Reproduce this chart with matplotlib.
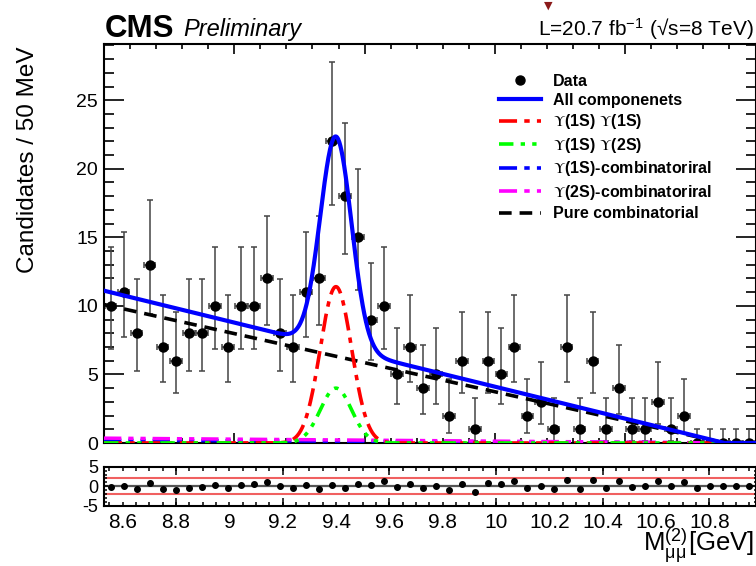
import numpy as np
import matplotlib
matplotlib.use("Agg")
import matplotlib.pyplot as plt
from matplotlib.lines import Line2D
from matplotlib.ticker import MultipleLocator, FixedLocator

plt.rcParams['font.family'] = ['Liberation Sans', 'DejaVu Sans']
plt.rcParams['mathtext.fontset'] = 'stix'

# ---------------- data ----------------
mass_range = (8.5, 11.0)          # main frame range (GeV), 50 bins of 50 MeV
n_bins = 50
counts = [10, 11, 8, 13, 7, 6, 8, 8, 10, 7,
          10, 10, 12, 8, 7, 11, 12, 22, 18, 15,
          9, 10, 5, 7, 4, 5, 2, 6, 1, 6,
          5, 7, 2, 3, 1, 7, 1, 6, 1, 4,
          1, 1, 3, 1, 2, 0, 0, 0, 0, 0]
# asymmetric (Poisson) error bars: count -> (down, up)
poisson_err = {0: (0.0, 1.0), 1: (0.83, 2.30), 2: (1.29, 2.64), 3: (1.63, 2.92),
               4: (1.91, 3.16), 5: (2.16, 3.38), 6: (2.38, 3.58), 7: (2.58, 3.77),
               8: (2.77, 3.95), 9: (2.94, 4.11), 10: (3.11, 4.27), 11: (3.27, 4.42),
               12: (3.41, 4.56), 13: (3.56, 4.70), 15: (3.83, 4.96), 18: (4.20, 5.32),
               22: (4.65, 5.76)}
pulls = [-0.17, 0.1, -0.6, 0.94, -0.77, -1.1, -0.34, -0.26, 0.34, -0.5,
         0.43, 0.5, 1.2, 0.0, -0.34, 0.43, -0.6, 0.26, -0.34, 0.6,
         0.43, 1.37, -0.26, 0.5, -0.34, 0.1, -0.94, 0.68, -1.45, 0.94,
         0.6, 1.37, -0.5, 0.0, -0.77, 1.7, -0.68, 1.7, -0.34, 1.28,
         -0.17, 0.0, 1.28, 0.17, 1.1, -0.43, 0.0, 0.1, 0.1, 0.1]

# fit model parameters
peak_mean, peak_sigma = 9.39, 0.06
amp_1s1s, amp_1s2s = 11.4, 4.0
bg_at_start, bg_end = 10.1, 10.88
total_bg_factor = 1.1
comb1_frac, comb2_frac = 0.02, 0.035

# pull-panel axis (labelled) range and ticks
pull_xlim = (8.530, 10.973)
pull_ticks = [8.6, 8.8, 9.0, 9.2, 9.4, 9.6, 9.8, 10.0, 10.2, 10.4, 10.6, 10.8]
pull_ticklabels = ['8.6', '8.8', '9', '9.2', '9.4', '9.6', '9.8', '10', '10.2', '10.4', '10.6', '10.8']
pull_long_ticks = [8.8, 9.2, 9.6, 10.0, 10.4, 10.8]

legend_labels = ['Data', 'All componenets',
                 r'$\Upsilon$(1S) $\Upsilon$(1S)', r'$\Upsilon$(1S) $\Upsilon$(2S)',
                 r'$\Upsilon$(1S)-combinatoriral', r'$\Upsilon$(2S)-combinatoriral',
                 'Pure combinatorial']

# ---------------- derived ----------------
edges = np.linspace(mass_range[0], mass_range[1], n_bins + 1)
centers = 0.5 * (edges[1:] + edges[:-1])
half = 0.5 * (edges[1] - edges[0])
counts = np.array(counts, float)
err_lo = np.array([poisson_err[int(c)][0] for c in counts])
err_hi = np.array([poisson_err[int(c)][1] for c in counts])

x = np.linspace(mass_range[0], mass_range[1], 1200)
def gauss(x, a, m, s):
    return a * np.exp(-0.5 * ((x - m) / s) ** 2)
bg = np.clip(bg_at_start * (bg_end - x) / (bg_end - mass_range[0]), 0, None)
s11 = gauss(x, amp_1s1s, peak_mean, peak_sigma)
s12 = gauss(x, amp_1s2s, peak_mean, peak_sigma)
comb1 = comb1_frac * bg
comb2 = comb2_frac * bg
total = total_bg_factor * bg + s11 + s12

# ---------------- figure ----------------
W, H = 756, 566
fig = plt.figure(figsize=(W / 100, H / 100), dpi=100)
ax = fig.add_axes([104 / W, 1 - 443 / H, (755.5 - 104) / W, (443 - 44) / H])
ax2 = fig.add_axes([104 / W, 1 - 505.7 / H, (755.5 - 104) / W, 39 / H])

ax.errorbar(centers, counts, yerr=[err_lo, err_hi], xerr=half * 0.9, fmt='o',
            color='black', ecolor='#444444', elinewidth=1.1, capsize=2.0,
            capthick=1.1, ms=6.5, zorder=2)

ax.plot(x, comb1, color='#0000ff', lw=2.5, ls=(0, (5, 2, 1.5, 2, 1.5, 2)), zorder=3)
ax.plot(x, comb2, color='#ff00ff', lw=2.5, ls=(0, (5, 2, 1.5, 2, 1.5, 2)), zorder=3)
ax.plot(x, bg, color='black', lw=2.6, ls=(0, (3.5, 2.2)), zorder=4)
ax.plot(x, s11, color='#ff0000', lw=2.6, ls=(0, (5, 2, 1.5, 2)), zorder=4)
ax.plot(x, s12, color='#00ff00', lw=2.6, ls=(0, (4, 2, 1.2, 2, 1.2, 2, 1.2, 2)), zorder=4)
ax.plot(x, total, color='#0000ff', lw=3.0, zorder=5)

ax.set_xlim(*mass_range)
ax.set_ylim(0, 29.1)
ax.xaxis.set_major_locator(MultipleLocator(0.5))
ax.xaxis.set_minor_locator(MultipleLocator(0.1))
ax.yaxis.set_major_locator(MultipleLocator(5))
ax.yaxis.set_minor_locator(MultipleLocator(1))
ax.tick_params(axis='both', which='both', direction='in', top=True, right=True,
               width=1.2, labelsize=14)
ax.tick_params(axis='x', which='major', length=7.5, labelbottom=False)
ax.tick_params(axis='x', which='minor', length=3.6)
ax.tick_params(axis='y', which='major', length=14.5, pad=4.5)
ax.tick_params(axis='y', which='minor', length=7.2)
for sp in ax.spines.values():
    sp.set_linewidth(1.5)

handles = [Line2D([], [], marker='o', color='black', ls='none', ms=6.5),
           Line2D([], [], color='#0000ff', lw=3.0),
           Line2D([], [], color='#ff0000', lw=2.6, ls=(0, (5, 2, 1.5, 2))),
           Line2D([], [], color='#00ff00', lw=2.6, ls=(0, (4, 2, 1.2, 2, 1.2, 2, 1.2, 2))),
           Line2D([], [], color='#0000ff', lw=2.6, ls=(0, (5, 2, 1.5, 2, 1.5, 2))),
           Line2D([], [], color='#ff00ff', lw=2.6, ls=(0, (5, 2, 1.5, 2, 1.5, 2))),
           Line2D([], [], color='black', lw=2.6, ls=(0, (3.5, 2.2)))]
leg = fig.legend(handles, legend_labels, loc='upper left',
                 bbox_to_anchor=(499 / W, 1 - 73.5 / H), frameon=False,
                 prop={'weight': 'bold', 'size': 11.5}, handlelength=2.6,
                 handletextpad=0.75, labelspacing=0.28, borderpad=0, borderaxespad=0)

# ---- pull panel ----
pull_x = np.interp(centers, mass_range, pull_xlim)
ax2.axhline(0, color='#555555', lw=1.6, zorder=1)
ax2.axhline(2, color='#ee4444', lw=1.5, alpha=0.85, zorder=1)
ax2.axhline(-2, color='#ee4444', lw=1.5, alpha=0.85, zorder=1)
ax2.errorbar(pull_x, pulls, yerr=0.6, fmt='o', color='black', ms=4, elinewidth=1.0,
             capsize=0, zorder=3)
ax2.set_xlim(*pull_xlim)
ax2.set_ylim(-5, 5)
ax2.xaxis.set_major_locator(FixedLocator(pull_ticks))
ax2.set_xticklabels(pull_ticklabels)
ax2.xaxis.set_minor_locator(MultipleLocator(0.05))
ax2.set_yticks([-5, 0, 5])
ax2.set_yticklabels(['-5', '0', '5'])
ax2.yaxis.set_minor_locator(MultipleLocator(1))
ax2.tick_params(axis='both', which='both', direction='in', top=True, right=True, width=1.1)
ax2.tick_params(axis='x', which='both', length=3.0, labelsize=15, pad=5.5)
ax2.tick_params(axis='y', which='major', length=3, labelsize=13, pad=4)
ax2.tick_params(axis='y', which='minor', length=1.8)
for sp in ax2.spines.values():
    sp.set_linewidth(1.5)
for loc in ('bottom', 'top'):
    sec = ax2.secondary_xaxis(loc, functions=(lambda v: v, lambda v: v))
    sec.set_xticks(pull_long_ticks)
    sec.tick_params(direction='in', length=6.0, width=1.1, labelbottom=False,
                    labeltop=False)
    sec.spines[loc].set_visible(False)

# ---- texts ----
fig.text(105 / W, 1 - 37 / H, 'CMS', weight='bold', size=22.5, va='baseline', ha='left')
fig.text(183 / W, 1 - 36 / H, 'Preliminary', style='italic', size=17, va='baseline', ha='left')
fig.text(754 / W, 1 - 36 / H, 'L=20.7 fb$^{\\mathregular{-1}}$ (\u221As=8 TeV)',
         size=15, va='baseline', ha='right')
fig.text(28 / W, 1 - 160 / H, 'Candidates / 50 MeV', rotation=90, size=17.5,
         va='center', ha='center')
fig.text(754 / W, 1 - 552 / H, r'M$_{\mathregular{\mu\mu}}^{\mathregular{(2)}}$[GeV]',
         size=18.5, va='baseline', ha='right')
fig.text(548 / W, 1 - 6 / H, '\u25BC', color='#8b1a1a', size=8, ha='center', va='center',
         family='DejaVu Sans')

fig.savefig('out.png', dpi=100)
